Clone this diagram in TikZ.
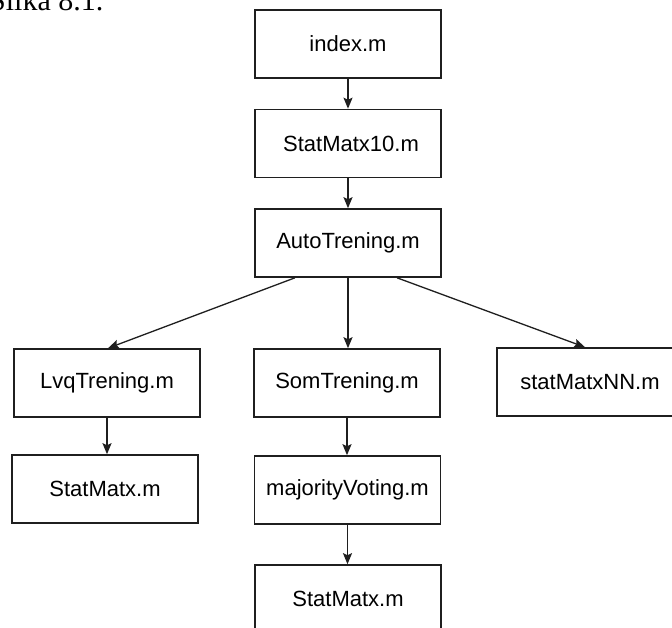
\documentclass[tikz,border=0pt]{standalone}
\usepackage{fontspec}
\setmainfont{Liberation Sans}
\newfontfamily\capfont{Liberation Serif}
\usetikzlibrary{arrows.meta,calc}
\begin{document}
\begin{tikzpicture}[x=1pt,y=1pt,
  filebox/.style={draw=black!88, line width=1.6pt, minimum width=186pt,
    minimum height=68pt, inner sep=0pt, font=\fontsize{22}{24}\selectfont},
  link/.style={draw=black!88, line width=1.3pt,
    -{Stealth[length=11pt,width=9pt,inset=2pt]}}]
  \clip (0,0) rectangle (672,627);
  \fill[white] (0,0) rectangle (672,627);

  % caption line of the page, cut by the top edge
  \node[anchor=base west, inner sep=0pt, font=\capfont\fontsize{30}{32}\selectfont]
    (cap) at (-11,616) {Slika 8.1.};

  % call tree of the scripts
  \node[filebox] (index) at (348,583)   {index.m};
  \node[filebox] (sm10)  at (348,483.5) {\hspace*{6pt}StatMatx10.m};
  \node[filebox] (auto)  at (348,384)   {AutoTrening.m};
  \node[filebox] (lvq)   at (107,244)   {LvqTrening.m};
  \node[filebox] (som)   at (347,244)   {SomTrening.m};
  \node[filebox] (nn)    at (590,245)   {statMatxNN.m};
  \node[filebox] (sml)   at (105,138)   {StatMatx.m};
  \node[filebox] (maj)   at (347.5,137) {majorityVoting.m};
  \node[filebox] (smb)   at (348,28)    {StatMatx.m};

  \draw[link] (index) -- (sm10);
  \draw[link] (sm10) -- (auto);
  \draw[link] ([xshift=-53pt]auto.south) -- ([xshift=1pt]lvq.north);
  \draw[link] (auto.south) -- (auto.south |- som.north);
  \draw[link] ([xshift=49pt]auto.south) -- ([xshift=-5pt]nn.north);
  \draw[link] (lvq) -- (lvq.south |- sml.north);
  \draw[link] (som) -- (som.south |- maj.north);
  \draw[link] (maj) -- (maj.south |- smb.north);
\end{tikzpicture}
\end{document}
